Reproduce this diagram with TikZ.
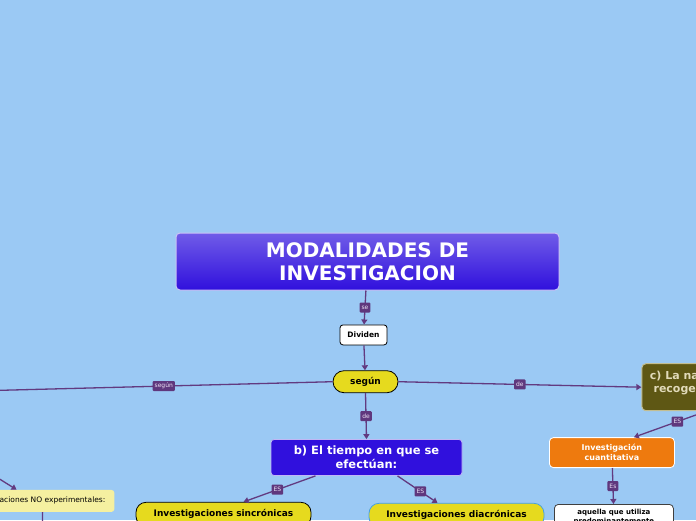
\documentclass[tikz,border=0pt]{standalone}
\usepackage{fontspec}
\setmainfont{DejaVu Sans}
\usetikzlibrary{positioning,arrows.meta,calc}
\definecolor{mmsky}{RGB}{155,201,244}
\definecolor{mmlink}{RGB}{98,58,128}
\definecolor{mmtag}{RGB}{95,55,125}
\definecolor{mmtagtext}{RGB}{235,225,245}
\definecolor{mmviolet}{RGB}{48,16,221}
\definecolor{mmvioletlight}{RGB}{112,92,232}
\definecolor{mmyellow}{RGB}{230,218,30}
\definecolor{mmolive}{RGB}{94,87,20}
\definecolor{mmolivetext}{RGB}{225,218,185}
\definecolor{mmoliveline}{RGB}{195,190,145}
\definecolor{mmorange}{RGB}{238,122,14}
\definecolor{mmpale}{RGB}{245,240,160}
\definecolor{mmblueline}{RGB}{70,160,225}
\newlength{\MMTagHeight}
\setlength{\MMTagHeight}{10pt}
\tikzset{/mm/main/.style={
rectangle, rounded corners=4pt, draw=white!75!mmviolet, line width=1pt, top color=mmvioletlight, bottom color=mmviolet, text=white, align=center, font=\bfseries\fontsize{20}{23.5}\selectfont, minimum width=383pt, minimum height=57pt
}}
\tikzset{/mm/plain/.style={rectangle, rounded corners=3pt, draw=black, line width=0.8pt, fill=white, align=center, font=\bfseries\fontsize{7.5}{9}\selectfont, minimum width=47pt, minimum height=20pt, inner sep=2pt
}}
\tikzset{/mm/pill/.style={rectangle, rounded corners=11pt, draw=black, line width=0.8pt, fill=mmyellow, align=center, font=\bfseries\fontsize{9}{11}\selectfont, minimum width=65pt, minimum height=22pt
}}
\tikzset{/mm/blue/.style={rectangle, rounded corners=3pt, draw=white!70!mmviolet, line width=0.8pt, fill=mmviolet, text=white, align=center, font=\bfseries\fontsize{11.5}{14}\selectfont, minimum width=191pt, minimum height=36pt
}}
\tikzset{/mm/yellow/.style={rectangle, rounded corners=10pt, draw=black, line width=0.8pt, fill=mmyellow, align=center, font=\bfseries\fontsize{9}{11}\selectfont, minimum width=175pt, minimum height=24pt
}}
\tikzset{/mm/olive/.style={rectangle, rounded corners=4pt, draw=mmoliveline, line width=1pt, fill=mmolive, text=mmolivetext, align=center, font=\bfseries\fontsize{11}{13}\selectfont, minimum height=47pt, inner xsep=8pt, inner ysep=7pt, text depth=11pt
}}
\tikzset{/mm/orange/.style={rectangle, rounded corners=4pt, draw=white, line width=0.8pt, fill=mmorange, text=white, align=center, font=\bfseries\fontsize{8}{10}\selectfont, minimum width=125pt, minimum height=30pt
}}
\tikzset{/mm/note/.style={rectangle, rounded corners=4pt, draw=black!75, line width=0.8pt, fill=white, align=center, font=\bfseries\fontsize{7}{8.5}\selectfont, minimum width=119pt, inner ysep=5pt
}}
\tikzset{/mm/pale/.style={rectangle, rounded corners=3pt, fill=mmpale, align=center, font=\fontsize{7.5}{9}\selectfont, minimum height=22pt, inner xsep=9pt
}}
\tikzset{/mm/link/.style={draw=mmlink, line width=1.3pt, -{Triangle[length=5pt,width=6pt]}
}}
\tikzset{/mm/tag/.style={rectangle, fill=mmtag, text=mmtagtext, rounded corners=1pt, inner sep=2pt, minimum height=\MMTagHeight, font=\fontsize{6}{7}\selectfont
}}

\begin{document}
\begin{tikzpicture}[x=1pt, y=-1pt]
			\useasboundingbox (0,0) rectangle (696,520);
			\clip (0,0) rectangle (696,520);
			\fill[mmsky] (0,0) rectangle (696,520);
			\path (367.5,261.5) node[/mm/main] (title) {MODALIDADES DE\\INVESTIGACION};
			\path (title.south) ++(-4,34) node[/mm/plain, anchor=north] (divid) {Dividen};
			\path (divid.south) ++(2,25) node[/mm/pill, anchor=north] (segun) {según};
			\path (segun.south) ++(1,46) node[/mm/blue, anchor=north] (tiempo) {b) El tiempo en que se\\efectúan:};
			\path (tiempo.south) ++(-143,26) node[/mm/yellow, anchor=north] (sincr) {Investigaciones sincrónicas};
			\path (tiempo.south) ++(90,27) node[/mm/yellow, draw=mmblueline, anchor=north] (diacr) {Investigaciones diacrónicas};
			\path (segun.east) ++(243,5.5) node[/mm/olive, anchor=west] (natur) {c) La naturaleza de la información que\\recogen para responder al problema:};
			\path (natur.south west) ++(-29.5,26) node[/mm/orange, anchor=north] (cuant) {Investigación\\cuantitativa};
			\path (cuant.south) ++(2,36) node[/mm/note, anchor=north] (aquel) {aquella que utiliza\\predominantemente};
			\path (segun.west) ++(-218,108) node[/mm/pale, anchor=north east] (noexp) {Investigaciones NO experimentales:};
			\coordinate (offleft) at (-200,395.5);
			\coordinate (offnoexp) at (-34,458);
			\coordinate (offdown) at (42,545);
			\path[/mm/link] (title) -- node[/mm/tag] {se} (divid);
			\path[/mm/link] (divid) -- (segun);
			\path[/mm/link] (segun.south) -- node[/mm/tag] {de} (tiempo.north);
			\path[/mm/link] (segun.east) -- node[/mm/tag] {de} (natur.west);
			\path[/mm/link] (segun.west) -- node[/mm/tag, pos=0.317] {según} (offleft);
			\path[/mm/link] ([xshift=-51pt]tiempo.south) -- node[/mm/tag, pos=0.53] {ES} ([xshift=20pt]sincr.north);
			\path[/mm/link] ([xshift=31pt]tiempo.south) -- node[/mm/tag, pos=0.57] {ES} ([xshift=-19pt]diacr.north);
			\path[/mm/link] ([xshift=65pt]natur.south west) -- node[/mm/tag, pos=0.4] {ES} ([xshift=22pt]cuant.north);
			\path[/mm/link] (cuant) -- node[/mm/tag] {Es} (aquel);
			\path[/mm/link] (offnoexp) -- ([xshift=-98pt]noexp.north east);
			\path[/mm/link] ([xshift=-72pt]noexp.south east) -- (offdown);
		\end{tikzpicture}
\end{document}
